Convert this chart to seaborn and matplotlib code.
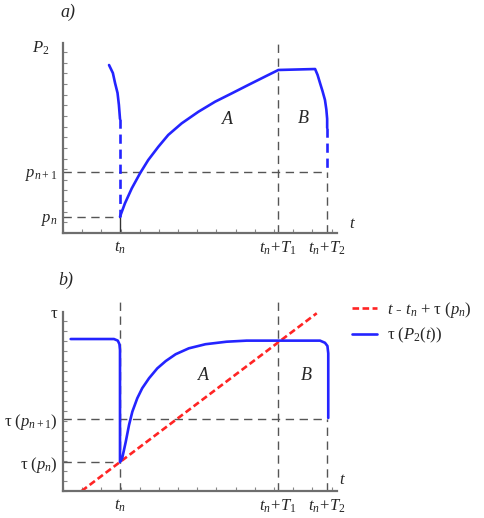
import matplotlib
matplotlib.use("Agg")
import matplotlib.pyplot as plt
from matplotlib.ticker import MultipleLocator
import seaborn as sns

sns.set_style("white")
plt.rcParams["font.family"] = ["Liberation Serif", "DejaVu Serif"]
plt.rcParams["mathtext.fontset"] = "custom"
plt.rcParams["mathtext.rm"] = "Liberation Serif"
plt.rcParams["mathtext.it"] = "Liberation Serif:italic"

# -------------------------------
# Key levels
# -------------------------------
t_n, t_T1, t_T2 = 2.08, 7.85, 9.64
p_n, p_n1 = 0.84, 3.21
tau_n, tau_n1 = 1.6, 4.0
x_labels = [r"$t_n$", r"$t_n\!+\!T_1$", r"$t_n\!+\!T_2$"]

# -------------------------------
# Panel a) curves
# -------------------------------
a_left_t = [1.68, 1.82, 1.90, 1.99, 2.04, 2.08]
a_left_p = [8.84, 8.42, 7.89, 7.37, 6.74, 6.0]
a_jump_t = [2.08, 2.08]
a_jump_p = [6.0, 0.86]
a_main_t = [2.08, 2.26, 2.51, 2.81, 3.11, 3.48, 3.84, 4.33, 4.94, 5.55, 6.16, 6.76,
            7.37, 7.86, 9.2, 9.29, 9.38, 9.47, 9.56, 9.61, 9.64, 9.64]
a_main_p = [0.86, 1.56, 2.35, 3.14, 3.84, 4.54, 5.16, 5.77, 6.38, 6.91, 7.35, 7.79,
            8.23, 8.58, 8.63, 8.32, 7.89, 7.47, 7.0, 6.5, 6.0, 5.53]
a_drop_t = [9.64, 9.64]
a_drop_p = [5.53, 3.21]

# -------------------------------
# Panel b) curves
# -------------------------------
b_tau_t = [0.28, 1.86, 2.0, 2.06, 2.08, 2.08, 2.16, 2.29, 2.41, 2.53, 2.71, 2.89,
           3.14, 3.44, 3.75, 4.11, 4.59, 5.20, 5.97, 6.70, 7.88, 9.38, 9.56, 9.65,
           9.68, 9.68]
b_tau_v = [8.49, 8.49, 8.40, 8.2, 7.88, 1.62, 1.83, 2.75, 3.69, 4.43, 5.18, 5.74,
           6.30, 6.85, 7.26, 7.64, 7.97, 8.20, 8.34, 8.40, 8.40, 8.40, 8.28, 8.10,
           7.69, 4.08]
b_line_t = [0.68, 9.26]
b_line_v = [0.0, 9.93]

blue = "#2424ff"
red = "#ff2424"
guide = dict(color="#555555", lw=1.0, ls=(0, (6, 4)))

fig = plt.figure(figsize=(4.85, 5.18), dpi=100)
ax_a = fig.add_axes([0.1299, 0.5502, 0.565, 0.3668])
ax_b = fig.add_axes([0.1299, 0.0521, 0.565, 0.3456])


def style_axis(ax, ylabels_pos, ylabels):
    ax.set_xlim(0, 10)
    ax.set_ylim(0, 10)
    sns.despine(ax=ax)
    for s in ["left", "bottom"]:
        ax.spines[s].set_color("#6e6e6e")
        ax.spines[s].set_linewidth(1.6)
    ax.set_xticks([t_n, t_T1, t_T2])
    ax.set_xticklabels(x_labels, fontsize=12)
    ax.set_yticks(ylabels_pos)
    ax.set_yticklabels(ylabels, fontsize=12)
    ax.tick_params(which="major", length=0)
    ax.tick_params(axis="x", which="major", pad=5)
    ax.tick_params(axis="y", which="major", pad=4)
    ax.xaxis.set_minor_locator(MultipleLocator(0.7))
    ax.yaxis.set_minor_locator(MultipleLocator(0.56))
    ax.tick_params(which="minor", direction="in", length=3, width=0.8,
                   color="#888888", bottom=True, left=True)
    ax.set_xlabel("")
    ax.set_ylabel("")
    ax.grid(False)


# -------------------------------
# Panel a)
# -------------------------------
ax = ax_a
ax.hlines(p_n1, 0, t_T2, **guide)
ax.hlines(p_n, 0, t_n, **guide)
ax.vlines(t_T1, 0, 10.05, clip_on=False, **guide)
ax.vlines(t_T2, 0, p_n1, **guide)
ax.vlines(t_n, 0, p_n, color="#333333", lw=1.0)

sns.lineplot(x=a_left_t, y=a_left_p, sort=False, estimator=None, color=blue, lw=1.9, ax=ax)
sns.lineplot(x=a_jump_t, y=a_jump_p, sort=False, estimator=None, color=blue, lw=1.9,
             ls=(0, (3.5, 2.2)), ax=ax)
sns.lineplot(x=a_main_t, y=a_main_p, sort=False, estimator=None, color=blue, lw=1.9, ax=ax)
sns.lineplot(x=a_drop_t, y=a_drop_p, sort=False, estimator=None, color=blue, lw=1.9,
             ls=(0, (3.5, 2.2)), ax=ax)

style_axis(ax, [p_n, p_n1], [r"$p_n$", r"$p_{n+1}$"])
ax.text(6.02, 5.95, "A", fontsize=13, style="italic", ha="center", va="center")
ax.text(8.76, 6.05, "B", fontsize=13, style="italic", ha="center", va="center")
ax.text(10.55, 0.45, r"$t$", fontsize=12, ha="center", va="center", clip_on=False)

# -------------------------------
# Panel b)
# -------------------------------
ax = ax_b
ax.hlines(tau_n1, 0, t_T2, **guide)
ax.hlines(tau_n, 0, t_n, **guide)
ax.vlines(t_n, 0, 10.7, clip_on=False, **guide)
ax.vlines(t_T1, 0, 10.7, clip_on=False, **guide)
ax.vlines(t_T2, 0, tau_n1, **guide)

sns.lineplot(x=b_line_t, y=b_line_v, sort=False, estimator=None, color=red, lw=1.9,
             ls=(0, (2.5, 1.3)), ax=ax)
line_red = ax.lines[-1]
sns.lineplot(x=b_tau_t, y=b_tau_v, sort=False, estimator=None, color=blue, lw=1.9, ax=ax)
line_blue = ax.lines[-1]

style_axis(ax, [tau_n, tau_n1, 10], [r"τ $(p_n)$", r"τ $(p_{n+1})$", "τ"])
ax.text(5.11, 6.48, "A", fontsize=13, style="italic", ha="center", va="center")
ax.text(8.87, 6.48, "B", fontsize=13, style="italic", ha="center", va="center")
ax.text(10.2, 0.62, r"$t$", fontsize=12, ha="center", va="center", clip_on=False)

fig.legend([line_red, line_blue],
           [r"$t$ - $t_n$ + τ $(p_n)$", r"τ $(P_2(t))$"],
           loc="upper left", bbox_to_anchor=(352 / 485, 1 - 300 / 518),
           frameon=False, fontsize=12, handlelength=1.5, handletextpad=0.6,
           labelspacing=0.35, borderaxespad=0, borderpad=0)

# -------------------------------
# Panel titles and axis names
# -------------------------------
fig.text(68 / 485, 1 - 12 / 518, "a)", fontsize=13, style="italic", ha="center", va="center")
fig.text(66 / 485, 1 - 280 / 518, "b)", fontsize=13, style="italic", ha="center", va="center")
fig.text(41 / 485, 1 - 48 / 518, r"$P_2$", fontsize=12, ha="center", va="center")

fig.savefig("out.png", dpi=100)
